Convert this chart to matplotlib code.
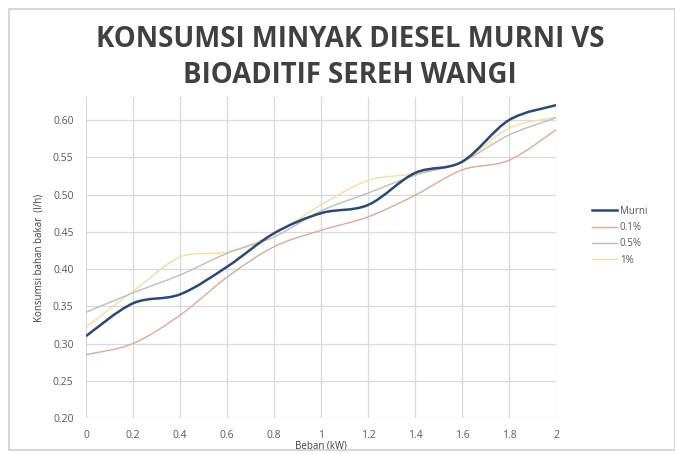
import numpy as np
import matplotlib
matplotlib.use("Agg")
import matplotlib.pyplot as plt
from matplotlib.path import Path
from matplotlib.patches import PathPatch, Rectangle
from matplotlib.lines import Line2D

plt.rcParams['font.family'] = ['Open Sans', 'DejaVu Sans']

beban = [0, 0.2, 0.4, 0.6, 0.8, 1.0, 1.2, 1.4, 1.6, 1.8, 2.0]
murni = [0.310, 0.354, 0.366, 0.403, 0.448, 0.475, 0.486, 0.529, 0.544, 0.600, 0.620]
aditif_01 = [0.285, 0.300, 0.338, 0.389, 0.430, 0.452, 0.470, 0.499, 0.533, 0.546, 0.587]
aditif_05 = [0.342, 0.368, 0.392, 0.421, 0.443, 0.478, 0.502, 0.526, 0.544, 0.580, 0.603]
aditif_1 = [0.322, 0.370, 0.416, 0.423, 0.447, 0.486, 0.519, 0.528, 0.544, 0.589, 0.604]

series = [
    ("Murni", murni, "#2b4a6f", 1.8),
    ("0.1%", aditif_01, "#d9ab98", 1.0),
    ("0.5%", aditif_05, "#bdbdbd", 1.0),
    ("1%", aditif_1, "#efdfa6", 1.0),
]


def smooth_path(x, y):
    # Excel-style smoothed line: Catmull-Rom segments as cubic Beziers
    p = np.column_stack([x, y]).astype(float)
    p = np.vstack([p[0], p, p[-1]])
    verts = [p[1]]
    codes = [Path.MOVETO]
    for i in range(1, len(p) - 2):
        c1 = p[i] + (p[i + 1] - p[i - 1]) / 6
        c2 = p[i + 1] - (p[i + 2] - p[i]) / 6
        verts += [c1, c2, p[i + 1]]
        codes += [Path.CURVE4] * 3
    return Path(verts, codes)


fig = plt.figure(figsize=(6.75, 4.54), dpi=100)
ax = fig.add_axes([86 / 675, 1 - 418 / 454, 470 / 675, 321 / 454])

handles = []
for name, vals, color, lw in series[::-1]:
    ax.add_patch(PathPatch(smooth_path(beban, vals), fill=False,
                           edgecolor=color, lw=lw, zorder=3))
for name, vals, color, lw in series:
    handles.append(Line2D([], [], color=color, lw=lw, label=name))

ax.set_xlim(0, 2)
ax.set_ylim(0.2, 0.631)
ax.set_xticks(beban)
ax.set_xticklabels(["0", "0.2", "0.4", "0.6", "0.8", "1", "1.2", "1.4", "1.6", "1.8", "2"])
ax.set_yticks(np.arange(0.2, 0.601, 0.05))
ax.set_yticklabels([f"{v:.2f}" for v in np.arange(0.2, 0.601, 0.05)])
ax.grid(True, color="#d9d9d9", lw=0.9)
ax.set_axisbelow(True)
for s in ax.spines.values():
    s.set_visible(False)
ax.tick_params(length=0, labelsize=7.5, colors="#595959", pad=9)

ax.set_xlabel("Beban (kW)", fontsize=7, color="#404040", labelpad=-1)
ax.set_ylabel("Konsumsi bahan bakar  (l/h)", fontsize=7, color="#404040", labelpad=6)

fig.text(350 / 675, 1 - 25 / 454, "KONSUMSI MINYAK DIESEL MURNI VS\nBIOADITIF SEREH WANGI",
         ha="center", va="top", fontsize=19.8, fontweight="bold",
         color="#404040", linespacing=1.33)

fig.legend(handles=handles, loc="upper left", bbox_to_anchor=(583 / 675, 1 - 197 / 454),
           frameon=False, fontsize=7, handlelength=2.6, handletextpad=0.3,
           labelspacing=0.55, labelcolor="#595959")

fig.patches.append(Rectangle((9 / 675, 4 / 454), 666 / 675, 441 / 454,
                             transform=fig.transFigure, fill=False,
                             edgecolor="#d0d0d0", lw=1.2))

fig.savefig("out.png", dpi=100)
